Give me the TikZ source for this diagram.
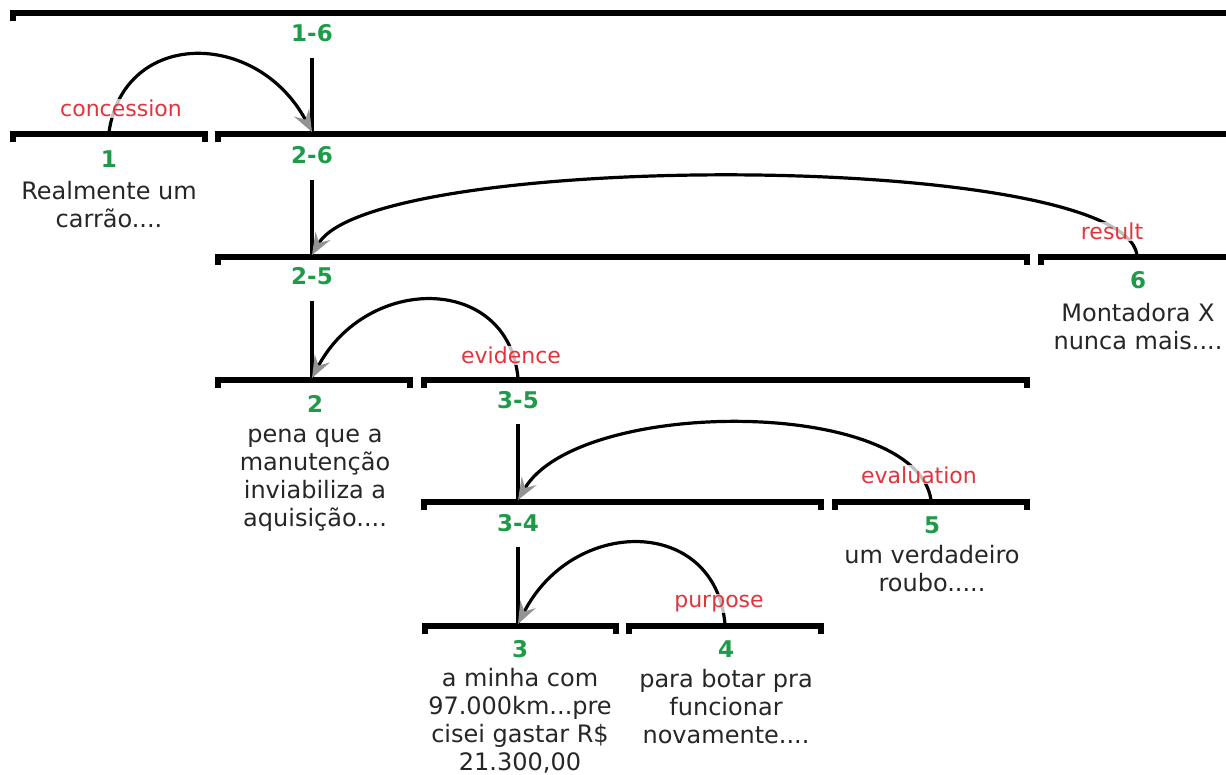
\documentclass[tikz,border=0pt]{standalone}
\usepackage{fontspec}
\setmainfont{DejaVu Sans}
\usetikzlibrary{arrows.meta}
\definecolor{spangreen}{HTML}{1E9A48}
\definecolor{relred}{HTML}{E3343C}
\definecolor{edutext}{HTML}{262626}
% strut that fixes the height of the first line of a segment text
\newcommand\edutop{\rule{0pt}{18pt}}
\begin{document}
\begin{tikzpicture}[x=1pt,y=-1pt,
  bar/.style={line width=6pt, line join=miter, line cap=butt},
  spanlbl/.style={font=\fontsize{23}{28}\selectfont\bfseries, text=spangreen, inner sep=0pt, anchor=base},
  rellbl/.style={font=\fontsize{22}{26}\selectfont, text=relred, inner sep=1pt, anchor=base,
                 fill=white, fill opacity=0.75, text opacity=1},
  edutxt/.style={font=\fontsize{24}{28}\selectfont, text=edutext, inner sep=0pt, align=center, anchor=north},
  stem/.style={line width=3.2pt},
  relarc/.style={line width=3.2pt, -{Stealth[length=22pt,width=17pt,inset=8pt,color=gray!85]}},
]
\useasboundingbox (0,0) rectangle (1226,775);

% span bars with end ticks
\draw[bar] (13,21) -- (13,13) -- (1240,13);
\draw[bar] (13,142) -- (13,134) -- (205,134) -- (205,142);
\draw[bar] (218,142) -- (218,134) -- (1240,134);
\draw[bar] (218,265) -- (218,257) -- (1027,257) -- (1027,265);
\draw[bar] (1041,265) -- (1041,257) -- (1240,257);
\draw[bar] (218,388) -- (218,380) -- (410,380) -- (410,388);
\draw[bar] (424,388) -- (424,380) -- (1027,380) -- (1027,388);
\draw[bar] (424,510) -- (424,502) -- (821,502) -- (821,510);
\draw[bar] (835,510) -- (835,502) -- (1027,502) -- (1027,510);
\draw[bar] (425,634) -- (425,626) -- (616,626) -- (616,634);
\draw[bar] (629,634) -- (629,626) -- (821,626) -- (821,634);

% attachment points on the bars
\coordinate (b16) at (312,132);
\coordinate (b26) at (312,255);
\coordinate (b25) at (312,378);
\coordinate (b35) at (518,500);
\coordinate (b34) at (518,624);
\coordinate (a1) at (109,132);
\coordinate (a6) at (1137,255);
\coordinate (a35) at (518,378);
\coordinate (a5) at (931,500);
\coordinate (a4) at (725,624);

% span labels
\node[spanlbl] (s16) at (312,42) {1-6};
\node[spanlbl] (s26) at (312,164) {2-6};
\node[spanlbl] (s25) at (312,285) {2-5};
\node[spanlbl] (s35) at (518,408) {3-5};
\node[spanlbl] (s34) at (518,531) {3-4};

% segment numbers
\node[spanlbl] (n1) at (109,168) {1};
\node[spanlbl] (n2) at (315,412) {2};
\node[spanlbl] (n3) at (520,657) {3};
\node[spanlbl] (n4) at (726,657) {4};
\node[spanlbl] (n5) at (932,533) {5};
\node[spanlbl] (n6) at (1138,289) {6};

% segment texts
\node[edutxt] (t1) at (109,181) {\edutop Realmente um\\carrão....};
\node[edutxt] (t2) at (315,424) {\edutop pena que a\\manutenção\\inviabiliza a\\aquisição....};
\node[edutxt] (t3) at (520,668) {\edutop a minha com\\97.000km...pre\\cisei gastar R\$\\21.300,00};
\node[edutxt] (t4) at (726,669) {\edutop para botar pra\\funcionar\\novamente....};
\node[edutxt] (t5) at (932,545) {\edutop um verdadeiro\\roubo.....};
\node[edutxt] (t6) at (1138,303) {\edutop Montadora X\\nunca mais....};

% vertical stems from span labels to their bars
\draw[stem] ([yshift=-15pt]s16.south) -- (b16);
\draw[stem] ([yshift=-15pt]s26.south) -- (b26);
\draw[stem] ([yshift=-15pt]s25.south) -- (b25);
\draw[stem] ([yshift=-15pt]s35.south) -- (b35);
\draw[stem] ([yshift=-15pt]s34.south) -- (b34);

% relation arcs from satellite to nucleus
\draw[relarc] (a1)  .. controls +(15,-103) and +(-55,-103) .. (b16);
\draw[relarc] (a6)  .. controls +(-15,-105) and +(60,-105) .. (b26);
\draw[relarc] (a35) .. controls +(-10,-104) and +(55,-104) .. (b25);
\draw[relarc] (a5)  .. controls +(-15,-103) and +(60,-103) .. (b35);
\draw[relarc] (a4)  .. controls +(-10,-108) and +(55,-108) .. (b34);

% relation names
\node[rellbl] (r1) at (121,117) {concession};
\node[rellbl] (r6) at (1112,240) {result};
\node[rellbl] (r35) at (511,364) {evidence};
\node[rellbl] (r5) at (919,483) {evaluation};
\node[rellbl] (r4) at (719,607) {purpose};
\end{tikzpicture}
\end{document}
